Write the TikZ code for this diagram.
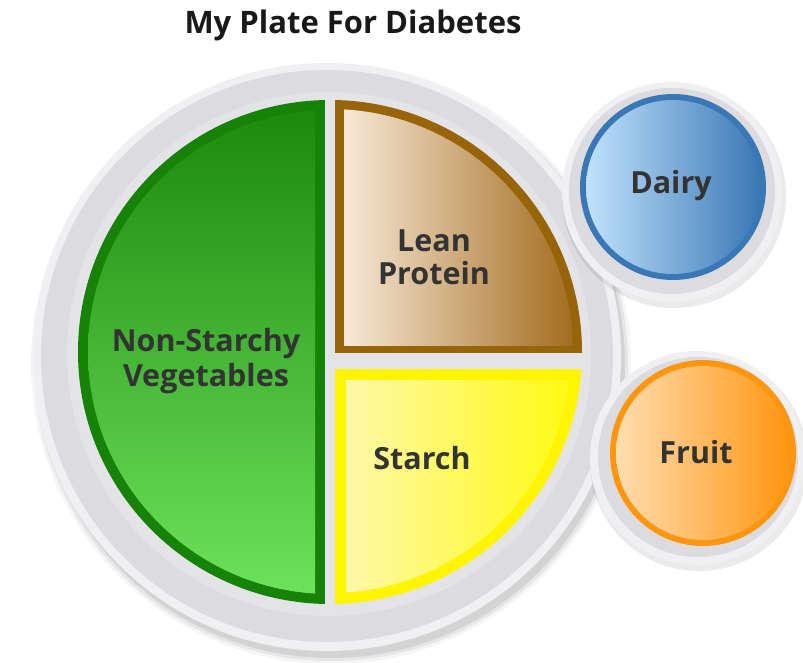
\documentclass[tikz,border=0pt]{standalone}
\usepackage{fontspec}
\setmainfont{Open Sans}
\begin{document}
\begin{tikzpicture}[x=1pt,y=-1pt,
  lbl/.style={font=\fontsize{30.5}{35}\selectfont\bfseries, text=labeltext, align=center, inner sep=0pt},
]
\definecolor{labeltext}{HTML}{333333}
\definecolor{plategray}{HTML}{DCDCDF}
\definecolor{platerim}{HTML}{F0F0F2}
\definecolor{plateinner}{HTML}{E4E4E7}
\definecolor{vegdark}{HTML}{168207}
\definecolor{vegtop}{HTML}{1C880E}
\definecolor{vegmid}{HTML}{45BA34}
\definecolor{vegbot}{HTML}{6EE35C}
\definecolor{protborder}{HTML}{98640A}
\definecolor{protlight}{HTML}{F8E8D6}
\definecolor{protmid}{HTML}{C08A4C}
\definecolor{protdark}{HTML}{A0691A}
\definecolor{starborder}{HTML}{FFF500}
\definecolor{starlight}{HTML}{FFF8A8}
\definecolor{stardark}{HTML}{FFFA10}
\definecolor{dairyborder}{HTML}{3A78B5}
\definecolor{dairylight}{HTML}{C0E2FC}
\definecolor{dairymid}{HTML}{90C4EE}
\definecolor{fruitborder}{HTML}{FF9610}
\definecolor{fruitlight}{HTML}{FFDDB0}
\definecolor{fruitmid}{HTML}{FFCF90}
\useasboundingbox (0,0) rectangle (803,663);
\fill[white] (0,0) rectangle (803,663);

% title
\node[font=\fontsize{31}{36}\selectfont\bfseries, text=black!90, inner sep=0pt] (title) at (353,25) {My Plate For Diabetes};

% main plate shadow
\foreach \r/\o in {300/0.04,297/0.06,294/0.08}{
  \fill[black, opacity=\o] (331,364) circle (\r pt);
}
% main plate
\fill[platerim] (327,357) circle (294pt);
\fill[plategray] (327,356) circle (286pt);
\fill[plateinner] (329,354) circle (262pt);

% vegetables
\begin{scope}
  \clip (330,352) circle (252pt);
  \clip (0,0) rectangle (325,663);
  \fill[vegdark] (0,0) rectangle (325,663);
  \clip (330,352) circle (242pt);
  \clip (0,0) rectangle (315,663);
  \shade[top color=vegtop, middle color=vegmid, bottom color=vegbot] (70,105) rectangle (315,600);
\end{scope}

% lean protein
\begin{scope}
  \clip (330,352) circle (252pt);
  \clip (335,0) rectangle (803,353);
  \fill[protborder] (335,0) rectangle (803,353);
  \clip (330,352) circle (243pt);
  \clip (344,0) rectangle (803,345);
  \shade[left color=protlight, middle color=protmid, right color=protdark] (344,100) rectangle (580,345);
\end{scope}

% starch
\begin{scope}
  \clip (330,352) circle (252pt);
  \clip (335,369) rectangle (803,663);
  \fill[starborder] (335,369) rectangle (803,663);
  \clip (330,352) circle (241pt);
  \clip (346,380) rectangle (803,663);
  \shade[left color=starlight, right color=stardark] (346,380) rectangle (575,600);
\end{scope}

% dairy
\fill[black, opacity=0.08] (674,196) circle (112pt);
\fill[platerim] (672,192) circle (110pt);
\fill[plategray] (672,191) circle (103pt);
\fill[dairyborder] (673,187) circle (93pt);
\begin{scope}
  \clip (673,187) circle (87pt);
  \shade[left color=dairylight, middle color=dairymid, right color=dairyborder] (586,100) rectangle (760,274);
\end{scope}

% fruit
\fill[black, opacity=0.08] (699,462) circle (109pt);
\fill[platerim] (697,458) circle (107pt);
\fill[plategray] (698,457) circle (100pt);
\fill[fruitborder] (703,453) circle (93pt);
\begin{scope}
  \clip (703,453) circle (87pt);
  \shade[left color=fruitlight, middle color=fruitmid, right color=fruitborder] (616,366) rectangle (790,540);
\end{scope}

% labels
\node[lbl] (veg) at (206,361) {Non-Starchy\\Vegetables};
\node[lbl, font=\fontsize{30.5}{33}\selectfont\bfseries] (prot) at (434,257) {Lean\\Protein};
\node[lbl] (starch) at (422,458) {Starch};
\node[lbl] (dairy) at (671,186) {Dairy};
\node[lbl] (fruit) at (696,452) {Fruit};
\end{tikzpicture}
\end{document}
